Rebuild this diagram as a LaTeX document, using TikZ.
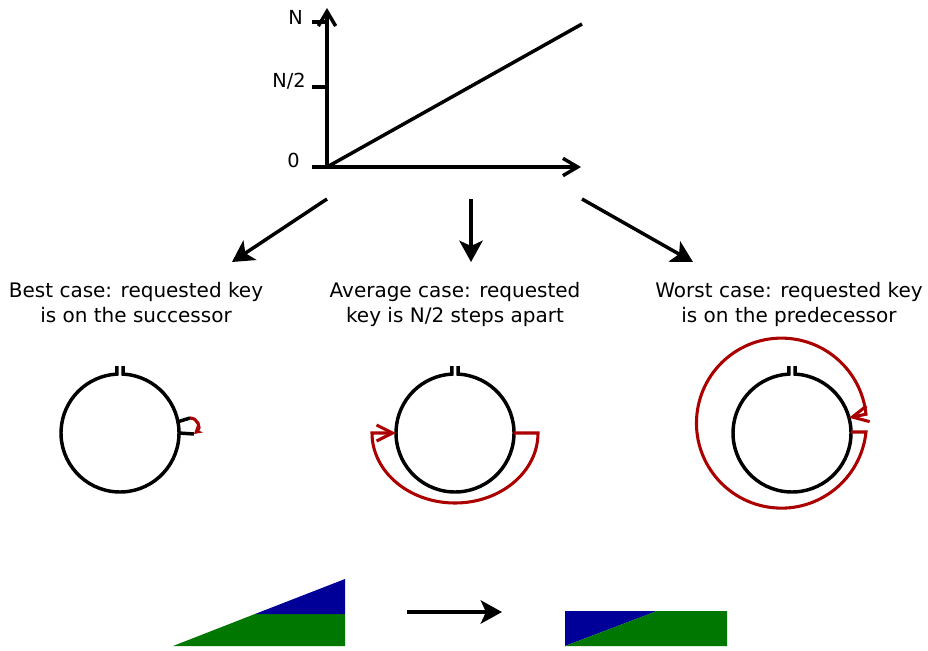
\documentclass[tikz,border=0pt]{standalone}
\usepackage{fontspec}
\setmainfont{DejaVu Sans}
\usetikzlibrary{arrows.meta}
\definecolor{ReqRed}{RGB}{170,0,0}
\definecolor{KeyBlue}{RGB}{0,0,153}
\definecolor{KeyGreen}{RGB}{0,119,0}

\begin{document}
\begin{tikzpicture}[x=0.75pt, y=-0.75pt,
    font=\fontsize{15}{18.75}\selectfont,
    axisline/.style={line width=2.6pt, -{Straight Barb[length=11pt,width=13pt]}},
    tickmark/.style={line width=2.6pt},
    ticklbl/.style={font=\fontsize{14.5}{17}\selectfont, inner sep=0pt},
    caselbl/.style={align=center, inner sep=0pt, anchor=north},
    fan/.style={line width=2.6pt, -{Stealth[length=16pt,width=17.5pt,inset=4pt]}},
    ring/.style={line width=2.6pt},
    hop/.style={line width=2.3pt, draw=ReqRed},
    hopend/.style={-{Straight Barb[length=12pt,width=12pt]}}
  ]
  \useasboundingbox (0,0) rectangle (928,650);

  % hops vs. key distance
  \coordinate (o) at (327,167);
  \draw[axisline] (312,167) -- (581,167);
  \draw[axisline] (o) -- (327,8);
  \draw[tickmark] (312,22) -- (327,22);
  \draw[tickmark] (312,87) -- (327,87);
  \draw[line width=2.6pt] (o) -- (582,24);
  \node[ticklbl, anchor=base east] (tN)    at (303,24)  {N};
  \node[ticklbl, anchor=base east] (tHalf) at (306,87)  {N/2};
  \node[ticklbl, anchor=base east] (tZero) at (300,167) {0};

  \coordinate (fL) at (327,199); \coordinate (tL) at (232,262);
  \coordinate (fM) at (471,199); \coordinate (tM) at (471,262);
  \coordinate (fR) at (582,199); \coordinate (tR) at (693,262);
  \draw[fan] (fL) -- (tL);
  \draw[fan] (fM) -- (tM);
  \draw[fan] (fR) -- (tR);

  \node[caselbl] (best)  at (136,282) {Best case: requested key\\is on the successor};
  \node[caselbl] (avg)   at (455,282) {Average case: requested\\key is N/2 steps apart};
  \node[caselbl] (worst) at (789,282) {Worst case: requested key\\is on the predecessor};

  % rings
  \coordinate (succ) at (120,433);
  \coordinate (mid)  at (455,433);
  \coordinate (pred) at (792,433);
  \foreach \r in {succ, mid, pred}
    \draw[ring] ([shift={(3.09,-66.92)}]\r) -- ++(0,8)
      arc[start angle=273, end angle=627, radius=59] -- ++(0,-8);

  % best case
  \coordinate (s1) at (190,418);
  \coordinate (s2) at (194,434);
  \draw[ring] ([shift={(-11:59)}]succ) -- (s1);
  \draw[ring] ([shift={(0:59)}]succ) -- (s2);
  \draw[hop, -{Stealth[length=6pt,width=7pt]}] (s1) .. controls (198,418) and (201,428) .. (s2);

  % average case
  \draw[hop, hopend] ([shift={(0:59)}]mid) -- ++(24,0)
    arc[start angle=0, end angle=180, x radius=83, y radius=70] -- ([shift={(180:59)}]mid);

  % worst case
  \draw[hop, hopend] ([shift={(-1:59)}]pred) -- (866,432)
    arc[start angle=6, end angle=354, radius=85] -- ([shift={(-15:59)}]pred);

  % key ranges
  \fill[KeyGreen] (173,646) -- (255,614) -- (345,614) -- (345,646) -- cycle;
  \fill[KeyBlue] (255,614) -- (345,579) -- (345,614) -- cycle;
  \coordinate (m1) at (407,612);
  \coordinate (m2) at (502,612);
  \draw[fan] (m1) -- (m2);
  \fill[KeyBlue] (565,611) -- (657,611) -- (565,646) -- cycle;
  \fill[KeyGreen] (565,646) -- (657,611) -- (727,611) -- (727,646) -- cycle;
\end{tikzpicture}
\end{document}
